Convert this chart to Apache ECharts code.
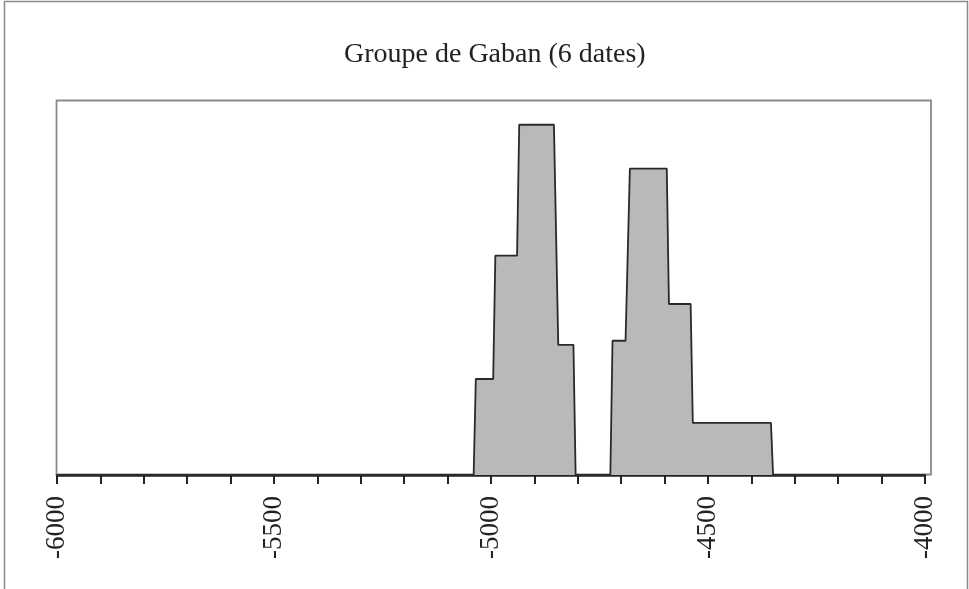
<!DOCTYPE html>
<html>
<head>
<meta charset="utf-8">
<script src="https://cdn.jsdelivr.net/npm/echarts@6/dist/echarts.min.js"></script>
<style>
html,body{margin:0;padding:0;background:#fff;}
#chart{width:969px;height:589px;}
</style>
</head>
<body>
<div id="chart"></div>
<script>
// Data
const chartTitle = 'Groupe de Gaban (6 dates)';
const years = [-6000, -5040, -5035, -4995, -4990, -4940, -4935, -4855, -4845, -4810, -4805,
               -4725, -4720, -4690, -4680, -4595, -4590, -4540, -4535, -4355, -4350, -4000];
const values = [0, 0, 0.256, 0.256, 0.585, 0.585, 0.934, 0.934, 0.347, 0.347, 0,
                0, 0.358, 0.358, 0.817, 0.817, 0.456, 0.456, 0.139, 0.139, 0, 0];
const axisMin = -6000, axisMax = -4000, minorStep = 100, labelStep = 500;

const data = years.map((y, i) => [y, values[i]]);

const chart = echarts.init(document.getElementById('chart'), null, {renderer: 'canvas'});
chart.setOption({
  animation: false,
  backgroundColor: '#ffffff',
  title: {
    text: chartTitle,
    left: 339,
    top: 36,
    textStyle: {fontFamily: 'Liberation Serif', fontSize: 28, fontWeight: 'normal', color: '#222'}
  },
  graphic: [
    {type: 'rect', shape: {x: 4.5, y: 1.5, width: 963, height: 620}, style: {fill: 'none', stroke: '#8a8a8a', lineWidth: 1.5}, z: -10},
    {type: 'rect', shape: {x: 56.5, y: 100.5, width: 874.5, height: 374}, style: {fill: 'none', stroke: '#8a8a8a', lineWidth: 1.8}, z: -5}
  ],
  grid: {left: 57, right: 44, top: 100, bottom: 114, containLabel: false},
  xAxis: {
    type: 'value',
    min: axisMin, max: axisMax, interval: minorStep,
    axisLine: {show: true, onZero: false, lineStyle: {color: '#222', width: 2.5}},
    axisTick: {show: true, length: 9, lineStyle: {color: '#222', width: 2}},
    splitLine: {show: false},
    axisLabel: {
      rotate: 90, margin: 21,
      fontFamily: 'Liberation Serif', fontSize: 27, color: '#222',
      formatter: v => (v % labelStep === 0 ? String(v) : '')
    }
  },
  yAxis: {type: 'value', min: 0, max: 1, show: false, splitLine: {show: false}},
  series: [{
    type: 'line',
    data: data,
    symbol: 'none',
    lineStyle: {color: '#2a2a2a', width: 1.8},
    areaStyle: {color: '#b9b9b9', opacity: 1},
    z: 3
  }]
});
</script>
</body>
</html>
